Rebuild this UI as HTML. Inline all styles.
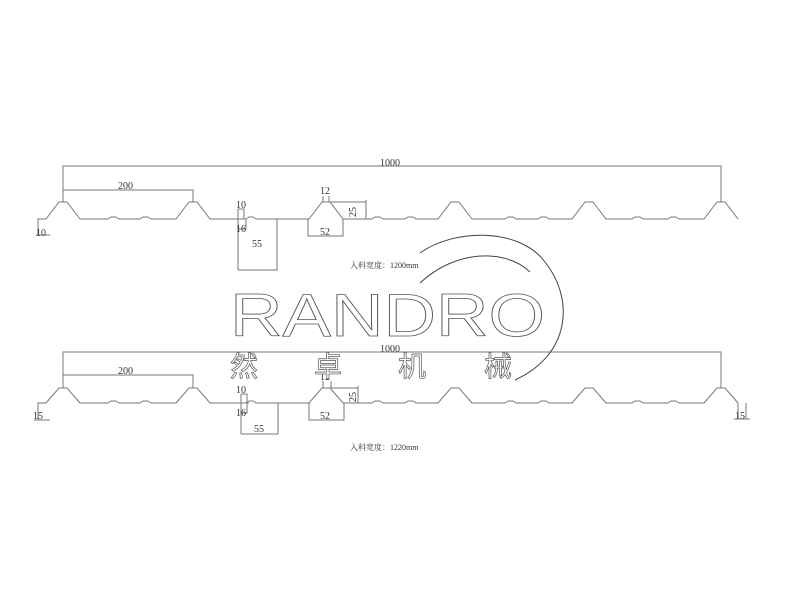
<!DOCTYPE html>
<html><head><meta charset="utf-8"><style>
html,body{margin:0;padding:0;background:#fff;width:800px;height:600px;overflow:hidden}
svg{display:block}
.d{font-family:"Liberation Serif",serif;fill:#333}
.cn{font-family:"Liberation Serif","Noto Serif CJK SC",serif;font-size:8px;fill:#333}
</style></head><body>
<svg width="800" height="600" viewBox="0 0 800 600" xmlns="http://www.w3.org/2000/svg">
<g fill="none" stroke="#777" stroke-width="1">
<path d="M46,219 L59,202 L67,202 L80,219 L108,219 L111,217 L116,217 L119,219 L140,219 L143,217 L148,217 L151,219 L176,219 L189,202 L197,202 L210,219 L246,219 L249,217 L253,217 L256,219 L309,219 L322,202 L330,202 L343,219 L372,219 L375,217 L380,217 L383,219 L405,219 L408,217 L413,217 L416,219 L438,219 L451,202 L459,202 L472,219 L505,219 L508,217 L513,217 L516,219 L538,219 L541,217 L546,217 L549,219 L572,219 L585,202 L593,202 L606,219 L632,219 L635,217 L640,217 L643,219 L668,219 L671,217 L676,217 L679,219 L704,219 L717,202 L725,202 L738,219"/>
<path d="M63,202 V166 H721 V202"/>
<path d="M63,190 H193 V202"/>
<path d="M38,235 V219 H46 M36,235 H50"/>
<path d="M238,209 V270 M244,219 V209 H238 M236,219 H246 M238,229 H246 V219 M238,270 H277 V219"/>
<path d="M323,202 V196 M329,202 V196 M329,202 H366 M366,200 V219 M308,219 V236 H343 V219"/>
<path d="M46,403 L59,388 L67,388 L80,403 L108,403 L111,401 L116,401 L119,403 L140,403 L143,401 L148,401 L151,403 L176,403 L189,388 L197,388 L210,403 L246,403 L249,401 L253,401 L256,403 L309,403 L322,388 L330,388 L343,403 L372,403 L375,401 L380,401 L383,403 L405,403 L408,401 L413,401 L416,403 L438,403 L451,388 L459,388 L472,403 L505,403 L508,401 L513,401 L516,403 L538,403 L541,401 L546,401 L549,403 L572,403 L585,388 L593,388 L606,403 L632,403 L635,401 L640,401 L643,403 L668,403 L671,401 L676,401 L679,403 L704,403 L717,388 L725,388 L738,403"/>
<path d="M63,388 V352 H721 V388"/>
<path d="M63,375 H193 V388"/>
<path d="M38,420 V403 H46 M34,420 H50"/>
<path d="M738,403 V419 M746,403 V419 H738 M734,419 H750"/>
<path d="M241,394 V434 M247,403 V394 H241 M239,403 H249 M241,413 H247 V403 M241,434 H278 V403"/>
<path d="M323,388 V381 M331,388 V381 M331,388 H358 M358,386 V403 M309,403 V420 H344 V403"/>
<path d="M420,253 C455,228 520,228 545,262 C575,300 570,355 515,380" stroke="#444"/>
<path d="M420,283 C455,250 505,248 530,272" stroke="#444"/>
</g>
<g font-size="10" class="d">
<text class="d" x="380" y="166">1000</text>
<text class="d" x="118" y="189">200</text>
<text class="d" x="36" y="236">10</text>
<text class="d" x="236" y="208">10</text>
<text class="d" x="236" y="232">16</text>
<text class="d" x="252" y="247">55</text>
<text class="d" x="320" y="194">12</text>
<text class="d" x="320" y="235">52</text>
<text class="d" x="0" y="0" transform="translate(356,217) rotate(-90)">25</text>
<text class="d" x="380" y="352">1000</text>
<text class="d" x="118" y="374">200</text>
<text class="d" x="33" y="419">15</text>
<text class="d" x="735" y="419">15</text>
<text class="d" x="236" y="393">10</text>
<text class="d" x="236" y="416">16</text>
<text class="d" x="254" y="432">55</text>
<text class="d" x="320" y="380">12</text>
<text class="d" x="320" y="419">52</text>
<text class="d" x="0" y="0" transform="translate(356,402) rotate(-90)">25</text>
</g>
<text class="cn" x="350" y="268">入料宽度：1200mm</text>
<text class="cn" x="350" y="450">入料宽度：1220mm</text>
<text x="230" y="336" textLength="315" lengthAdjust="spacingAndGlyphs" style="font-family:'Liberation Sans',sans-serif;font-size:60px;fill:#fff;stroke:#555;stroke-width:0.8">RANDRO</text>
<g style="font-family:'Noto Sans CJK SC',sans-serif;font-size:28px;fill:#fff;stroke:#555;stroke-width:0.7">
<text x="230" y="376">然</text>
<text x="314" y="376">卓</text>
<text x="398" y="376">机</text>
<text x="484" y="376">械</text>
</g>
</svg>
</body></html>
